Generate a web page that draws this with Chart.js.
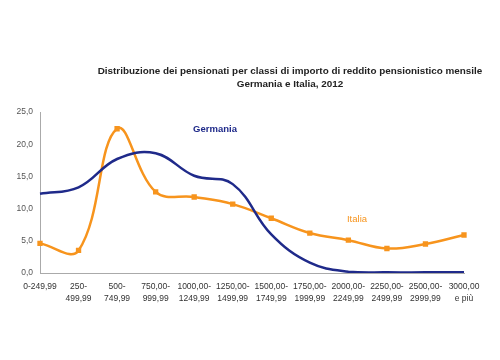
<!DOCTYPE html>
<html>
<head>
<meta charset="utf-8">
<script src="https://cdn.jsdelivr.net/npm/chart.js@4.4.0/dist/chart.umd.min.js"></script>
<style>
  html, body { margin: 0; padding: 0; background: #fff; }
  #wrap { width: 500px; height: 360px; position: relative; }
</style>
</head>
<body>
<div id="wrap"><canvas id="pensChart" width="500" height="360"></canvas></div>
<script>
// classi di importo (asse x)
var classi = ['0-249,99', ['250-', '499,99'], ['500-', '749,99'], ['750,00-', '999,99'],
    ['1000,00-', '1249,99'], ['1250,00-', '1499,99'], ['1500,00-', '1749,99'],
    ['1750,00-', '1999,99'], ['2000,00-', '2249,99'], ['2250,00-', '2499,99'],
    ['2500,00-', '2999,99'], ['3000,00', 'e più']];
// percentuali
var germania = [12.3, 13.3, 17.7, 18.6, 15.1, 13.8, 6.0, 1.6, 0.2, 0.1, 0.1, 0.1];
var italia = [4.6, 3.5, 22.4, 12.6, 11.8, 10.7, 8.5, 6.2, 5.1, 3.8, 4.5, 5.9];
var yTicks = [0, 5, 10, 15, 20, 25];
var titolo = ['Distribuzione dei pensionati per classi di importo di reddito pensionistico mensile',
    'Germania e Italia, 2012'];

var blu = '#1f2a8a';
var arancio = '#f7941d';

// titolo ed etichette delle serie, disegnati a mano come nell'originale
var testiPlugin = {
    id: 'testi',
    afterDraw: function (chart) {
        var ctx = chart.ctx;
        ctx.save();
        ctx.textAlign = 'center';
        ctx.textBaseline = 'middle';
        ctx.fillStyle = '#222';
        ctx.font = 'bold 9.9px "Liberation Sans", Arial, sans-serif';
        ctx.fillText(titolo[0], 290, 71);
        ctx.fillText(titolo[1], 290, 84);

        ctx.fillStyle = blu;
        ctx.font = 'bold 9.5px "Liberation Sans", Arial, sans-serif';
        ctx.fillText('Germania', 215, 129);
        ctx.fillStyle = arancio;
        ctx.font = '9.5px "Liberation Sans", Arial, sans-serif';
        ctx.fillText('Italia', 357, 219);
        ctx.restore();
    }
};

var ctx = document.getElementById('pensChart').getContext('2d');
var chart = new Chart(ctx, {
    type: 'line',
    data: {
        labels: classi,
        datasets: [{
            label: 'Germania',
            data: germania,
            borderColor: blu,
            borderWidth: 2.5,
            pointRadius: 0,
            tension: 0.4,
            fill: false
        }, {
            label: 'Italia',
            data: italia,
            borderColor: arancio,
            backgroundColor: arancio,
            borderWidth: 2.5,
            pointStyle: 'rect',
            pointRadius: 2,
            tension: 0.4,
            fill: false
        }]
    },
    options: {
        responsive: false,
        animation: false,
        layout: { padding: { top: 112, right: 36, left: 0, bottom: 0 } },
        plugins: {
            legend: { display: false },
            title: { display: false },
            tooltip: { enabled: false }
        },
        scales: {
            x: {
                offset: false,
                grid: { display: false, drawTicks: true, tickLength: 4 },
                border: { color: '#aaa', width: 1 },
                ticks: {
                    color: '#333',
                    maxRotation: 0,
                    autoSkip: false,
                    padding: 4,
                    font: { family: '"Liberation Sans Narrow", "Arial Narrow", Arial, sans-serif', size: 8.5, lineHeight: 1.4 }
                },
                afterFit: function (scale) { scale.height = 87; }
            },
            y: {
                min: 0,
                max: 25,
                afterBuildTicks: function (scale) {
                    scale.ticks = yTicks.map(function (v) { return { value: v }; });
                },
                grid: { display: false, drawTicks: true, tickLength: 4 },
                border: { color: '#aaa', width: 1 },
                ticks: {
                    color: '#555',
                    padding: 3,
                    font: { family: '"Liberation Sans", Arial, sans-serif', size: 8.5 },
                    callback: function (v) { return v.toFixed(1).replace('.', ','); }
                },
                afterFit: function (scale) { scale.width = 40; }
            }
        }
    },
    plugins: [testiPlugin]
});
</script>
</body>
</html>
